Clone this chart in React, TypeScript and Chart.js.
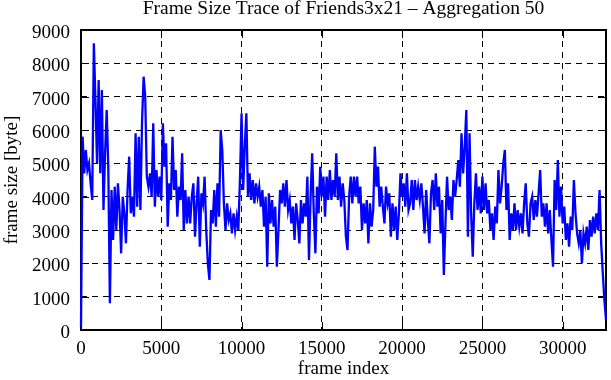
import React, { useEffect, useRef } from 'react';
import { Chart, registerables } from 'chart.js';

Chart.register(...registerables);

const TITLE = 'Frame Size Trace of Friends3x21 – Aggregation 50';
const X_LABEL = 'frame index';
const Y_LABEL = 'frame size [byte]';
const FRAME_STEP = 100;
const X_MAX = 32700;
const Y_MAX = 9000;
const X_TICKS = [0, 5000, 10000, 15000, 20000, 25000, 30000];
const Y_TICKS = [0, 1000, 2000, 3000, 4000, 5000, 6000, 7000, 8000, 9000];

const frameSizes = [
  100, 5800, 4700, 5400, 4800, 5000, 4400, 3900, 8600, 6900,
  5000, 7500, 4700, 7200, 3600, 5300, 6600, 4900, 800, 4200,
  2700, 4300, 3000, 4400, 3600, 2300, 4000, 3500, 2600, 4200,
  5200, 3500, 4000, 3400, 5900, 3700, 5800, 3600, 6200, 7600,
  7000, 4600, 4300, 4700, 4000, 6200, 3700, 4800, 4000, 4600,
  3900, 6200, 4900, 5600, 3100, 4400, 3900, 5800, 4200, 4800,
  3400, 4300, 3900, 5300, 3000, 4200, 3200, 4000, 3200, 4000,
  4400, 2800, 3800, 4600, 2500, 4100, 3800, 4600, 3000, 2000,
  1500, 3600, 3200, 4200, 3100, 4400, 3400, 6000, 5400, 3800,
  3000, 3800, 3300, 3500, 2900, 3500, 3000, 3400, 3000, 4500,
  6500, 4200, 5500, 6500, 4000, 4700, 3900, 4500, 3800, 4400,
  4000, 4300, 3700, 4200, 3100, 4000, 1900, 4100, 3200, 3900,
  3100, 3700, 1900, 3000, 4200, 3800, 4400, 3700, 4500, 3600,
  3900, 3200, 3700, 2700, 3800, 3300, 2600, 3900, 3200, 3800,
  3400, 4600, 2100, 4000, 5300, 3500, 2300, 4300, 3500, 4900,
  4000, 4600, 3400, 4600, 3900, 4800, 3900, 4500, 4000, 5300,
  3900, 4600, 3700, 4400, 3900, 2800, 2400, 4000, 4600, 3800,
  4600, 4000, 4600, 3800, 4300, 3000, 3800, 3200, 3900, 2600,
  3800, 3100, 3600, 5500, 4300, 4900, 3700, 4300, 3700, 3200,
  4300, 3800, 4100, 2800, 3800, 3000, 3700, 2700, 3500, 4700,
  4000, 4400, 3700, 4700, 3600, 3800, 4500, 3600, 4500, 3900,
  4300, 3900, 4400, 3700, 2900, 4200, 3300, 2600, 4100, 4500,
  3600, 4700, 3700, 4300, 2900, 3900, 1650, 3200, 4600, 3600,
  4000, 3300, 4500, 4000, 4500, 5100, 4300, 5900, 4700, 5500,
  6600, 2800, 5900, 3500, 2200, 3800, 4700, 3600, 4300, 3500,
  4600, 3600, 4400, 3500, 3900, 3000, 3500, 2700, 3700, 3200,
  4800, 3800, 4300, 5000, 5400, 3600, 4400, 2700, 3500, 3000,
  3800, 3000, 3600, 3100, 3500, 2900, 3800, 4400, 3200, 2800,
  3800, 4000, 3300, 3900, 3400, 4100, 4800, 3400, 3800, 3100,
  3800, 2900, 3600, 2700, 1900, 4500, 3600, 5100, 3400, 4300,
  3200, 3700, 2700, 3200, 2500, 3400, 3000, 4500, 3500, 2900,
  2600, 3000, 2000, 2900, 2600, 3100, 2400, 3300, 2800, 3400,
  2900, 3500, 3000, 4200, 2600, 1700, 900, 300,
];

const frameIndex = frameSizes.map((_, i) => i * FRAME_STEP);

const FONT_FAMILY = "'Liberation Serif', 'Times New Roman', serif";
const FONT_SIZE = 19;

const framePlugin = {
  id: 'gnuplotFrame',
  beforeDatasetsDraw(chart: any) {
    const { ctx, chartArea } = chart;
    const { left, right, top, bottom } = chartArea;
    const xs = chart.scales.x;
    const ys = chart.scales.y;
    const tick = 8;
    ctx.save();
    ctx.setLineDash([]);
    ctx.strokeStyle = '#000';
    ctx.lineWidth = 1;
    ctx.beginPath();
    xs.ticks.forEach((t: any) => {
      const px = Math.round(xs.getPixelForValue(t.value)) + 0.5;
      ctx.moveTo(px, bottom);
      ctx.lineTo(px, bottom - tick);
      ctx.moveTo(px, top);
      ctx.lineTo(px, top + tick);
    });
    ys.ticks.forEach((t: any) => {
      const py = Math.round(ys.getPixelForValue(t.value)) + 0.5;
      ctx.moveTo(left, py);
      ctx.lineTo(left + tick, py);
      ctx.moveTo(right, py);
      ctx.lineTo(right - tick, py);
    });
    ctx.stroke();
    ctx.lineWidth = 2;
    ctx.strokeRect(left, top, right - left, bottom - top);
    ctx.restore();
  },
};

export default function App() {
  const ref = useRef<HTMLCanvasElement>(null);

  useEffect(() => {
    const canvas = ref.current;
    if (!canvas) return;
    const font = { family: FONT_FAMILY, size: FONT_SIZE, weight: 'normal' as const, lineHeight: 1 };
    const chart = new Chart(canvas, {
      type: 'line',
      data: {
        datasets: [
          {
            data: frameSizes.map((v, i) => ({ x: frameIndex[i], y: v })),
            borderColor: '#0000ff',
            borderWidth: 2.3,
            pointRadius: 0,
            tension: 0,
            fill: false,
            clip: false as any,
          },
        ],
      },
      options: {
        animation: false,
        responsive: false,
        devicePixelRatio: 1,
        layout: { padding: { left: 0, right: 5, top: 0, bottom: 0 } },
        plugins: {
          legend: { display: false },
          tooltip: { enabled: false },
          title: {
            display: true,
            text: TITLE,
            color: '#000',
            fullSize: false,
            font: { ...font, size: 19.5 },
            padding: { top: -1, bottom: 11.5 },
          },
        },
        scales: {
          x: {
            type: 'linear',
            min: 0,
            max: X_MAX,
            afterBuildTicks: (s: any) => {
              s.ticks = X_TICKS.map((v) => ({ value: v }));
            },
            afterFit: (s: any) => {
              s.height = 50;
            },
            grid: { color: '#000', lineWidth: 1, drawTicks: false },
            border: { display: false, dash: [6, 5] },
            ticks: {
              color: '#000',
              font,
              padding: 10,
              maxRotation: 0,
              autoSkip: false,
              callback: (v: any) => String(v),
            },
            title: {
              display: true,
              text: X_LABEL,
              color: '#000',
              font,
              padding: { top: 0, bottom: 1 },
            },
          },
          y: {
            type: 'linear',
            min: 0,
            max: Y_MAX,
            afterBuildTicks: (s: any) => {
              s.ticks = Y_TICKS.map((v) => ({ value: v }));
            },
            afterFit: (s: any) => {
              s.width = 81;
            },
            grid: { color: '#000', lineWidth: 1, drawTicks: false },
            border: { display: false, dash: [6, 5] },
            ticks: {
              color: '#000',
              font,
              padding: 11,
              labelOffset: 3,
              autoSkip: false,
              callback: (v: any) => String(v),
            },
            title: {
              display: true,
              text: Y_LABEL,
              color: '#000',
              font,
              padding: { top: 3, bottom: 0 },
            },
          },
        },
      },
      plugins: [framePlugin],
    });
    return () => chart.destroy();
  }, []);

  return (
    <div style={{ position: 'fixed', left: 0, top: 0, width: 611, height: 380, background: '#fff' }}>
      <canvas ref={ref} width={611} height={380} style={{ display: 'block' }} />
    </div>
  );
}
